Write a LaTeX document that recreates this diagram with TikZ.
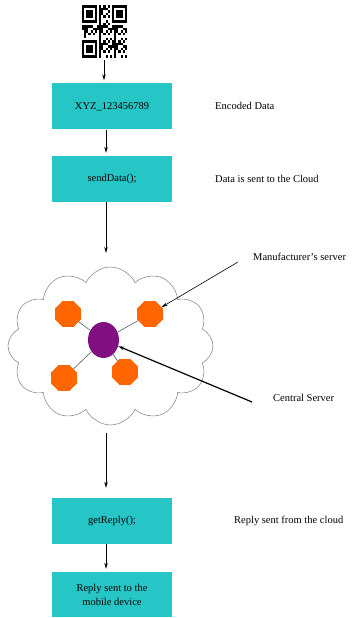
\documentclass[tikz,border=0pt]{standalone}
\usepackage{fontspec}
\setmainfont{Liberation Serif}
\usetikzlibrary{arrows.meta, positioning, shapes.geometric, shapes.symbols}

\definecolor{boxcyan}{RGB}{38,198,198}
\definecolor{srvorange}{RGB}{255,102,0}
\definecolor{hubpurple}{RGB}{128,16,128}

\begin{document}
\begin{tikzpicture}[x=1pt, y=1pt,
    stepbox/.style={fill=boxcyan, minimum width=120pt, minimum height=46pt, inner sep=0pt, align=center, font=\fontsize{10.5}{14}\selectfont},
    lbl/.style={anchor=west, inner sep=0pt, font=\fontsize{10.5}{13}\selectfont},
    arr/.style={-{Stealth[length=6pt, width=3.5pt]}, line width=0.7pt, shorten >=3pt},
    srv/.style={regular polygon, regular polygon sides=8, fill=srvorange, minimum size=28pt, inner sep=0pt},
    link/.style={draw=black!65, line width=0.6pt}]
    \useasboundingbox (0,0) rectangle (353,618);
    \def\qw{2.143}
    \def\qh{2.524}

    % QR code: data modules
    \foreach \i in {0,...,20}{
      \foreach \j in {0,...,20}{
        \pgfmathtruncatemacro\qbit{mod(\i*37+\j*71+\i*\j*13+\i*\i*5,7)}
        \ifnum\qbit<3 \fill (82+\i*\qw, 613-\j*\qh) rectangle ++(\qw,-\qh); \fi
      }
    }
    % QR code: finder patterns
    \foreach \pi/\pj/\wi/\wj in {0/0/0/0, 14/0/13/0, 0/14/0/13}{
      \fill[white] (82+\wi*\qw, 613-\wj*\qh) rectangle ++(8*\qw,-8*\qh);
      \fill (82+\pi*\qw, 613-\pj*\qh) rectangle ++(7*\qw,-7*\qh);
      \fill[white] (82+\pi*\qw+\qw, 613-\pj*\qh-\qh) rectangle ++(5*\qw,-5*\qh);
      \fill (82+\pi*\qw+2*\qw, 613-\pj*\qh-2*\qh) rectangle ++(3*\qw,-3*\qh);
    }
    \coordinate (qr) at (104,558);
    \coordinate (spine) at (106,0);

    % flow boxes
    \node[stepbox] (enc) at (112,511.5) {XYZ\_123456789};
    \node[stepbox] (send) at (112,439) {sendData();};
    \node[stepbox] (rep) at (112,97) {getReply();};
    \node[stepbox, minimum height=45pt] (mob) at (112,23.5) {Reply sent to the\\mobile device};

    % side labels
    \node[lbl] (enclbl) at (215,512) {Encoded Data};
    \node[lbl] (sendlbl) at (215,439) {Data is sent to the Cloud};
    \node[lbl] (mfrlbl) at (253,361) {Manufacturer's server};
    \node[lbl] (hublbl) at (273,220) {Central Server};
    \node[lbl] (replbl) at (234,97) {Reply sent from the cloud};

    % cloud with servers
    \node[cloud, cloud puffs=12, cloud puff arc=130, aspect=1.3, draw=black!45, line width=0.6pt,
          minimum width=205pt, minimum height=158pt, inner sep=0pt] (net) at (110.5,272) {};
    \node[srv] (oct1) at (68,304) {};
    \node[srv] (oct2) at (150,304) {};
    \node[srv] (oct3) at (64,240) {};
    \node[srv] (oct4) at (125,246) {};
    \node[ellipse, fill=hubpurple, minimum width=31pt, minimum height=36pt, inner sep=0pt] (hub) at (103.5,278) {};
    \foreach \o in {oct1,oct2,oct3,oct4}
      \draw[link] (hub) -- (\o);

    % arrows
    \coordinate (cloudin) at (106,365);
    \coordinate (cloudout) at (106,185);
    \coordinate (mtail) at (238,356);
    \coordinate (ctail) at (252,216);
    \draw[arr] (qr) -- (qr |- enc.north);
    \draw[arr] (spine |- enc.south) -- (spine |- send.north);
    \draw[arr, shorten >=0pt] (spine |- send.south) -- (cloudin);
    \draw[arr, shorten >=10pt] (cloudout) -- (spine |- rep.north);
    \draw[arr] (spine |- rep.south) -- (spine |- mob.north);
    \draw[arr, shorten >=0pt, line width=0.6pt] (mtail) -- (oct2);
    \draw[arr, shorten >=0pt, line width=1.2pt] (ctail) -- (hub);
\end{tikzpicture}
\end{document}
